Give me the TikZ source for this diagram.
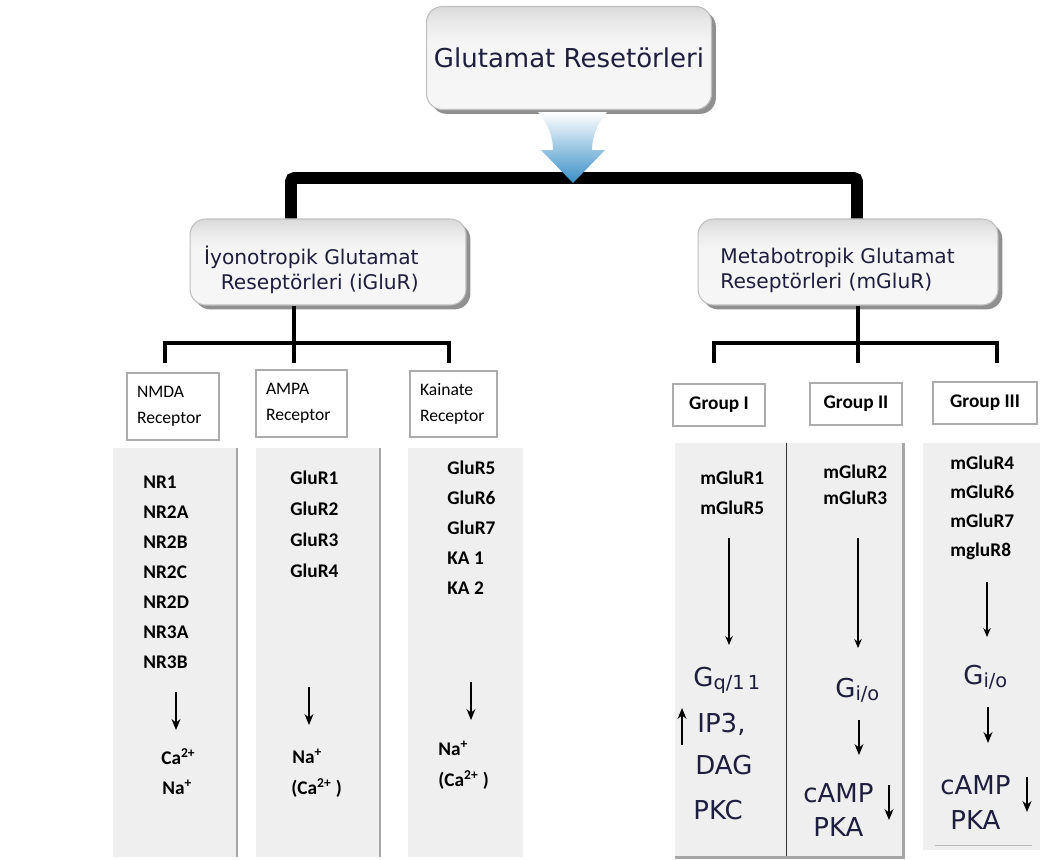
\documentclass[tikz,border=0pt]{standalone}
\usepackage{fontspec}
\setmainfont{DejaVu Sans}
\newfontfamily\carl{Carlito}
\usetikzlibrary{arrows.meta,shadows}
\definecolor{hText}{RGB}{30,30,62}
\definecolor{pGray}{RGB}{239,239,239}
\definecolor{aBlue}{RGB}{58,143,199}
\pgfdeclareverticalshading{hdshade}{100bp}{color(0bp)=(gray!7); color(25bp)=(gray!7); color(58bp)=(gray!8); color(68bp)=(gray!18); color(75bp)=(gray!30); color(100bp)=(gray!30)}
\newcommand\Gsub[1]{G\raisebox{-1.5pt}{\fontsize{11}{11}\selectfont #1}}

\begin{document}
\begin{tikzpicture}[x=0.02cm,y=-0.02cm,
  hd/.style={rounded corners=9pt,draw=gray!50,line width=.6pt,shading=hdshade,
    drop shadow={shadow xshift=2.5pt,shadow yshift=-2.5pt,opacity=.6,fill=gray!55!black}},
  ht/.style={font=\fontsize{11.5}{14.2}\selectfont,text=hText,inner sep=0pt},
  rc/.style={draw=gray!65,line width=.8pt,fill=white,align=left,inner xsep=.2cm,inner ysep=0pt,
    font=\carl\fontsize{10}{15}\selectfont},
  gp/.style={draw=gray!65,line width=.8pt,fill=white,minimum height=.84cm,
    font=\carl\bfseries\fontsize{11}{13}\selectfont},
  pn/.style={fill=pGray,inner sep=0pt},
  ed/.style={gray!70,line width=1.2pt},
  bar/.style={line width=6.8pt,rounded corners=2pt},
  tr/.style={line width=2.3pt},
  ls/.style={font=\carl\bfseries\fontsize{11}{13}\selectfont,inner sep=0pt,text height=7pt,text depth=0pt,anchor=west},
  vt/.style={font=\fontsize{14.8}{18}\selectfont,text=hText,inner sep=0pt,text height=10.8pt,text depth=0pt,anchor=west},
  a/.style={-{Stealth[length=2.2mm,width=1.8mm]},line width=.8pt},
  la/.style={-{Stealth[length=1.8mm,width=1.5mm]},line width=.6pt}]
  \fill[white] (0,0) rectangle (1040,859);
  \useasboundingbox (0,0) rectangle (1040,859);

  \node[hd,minimum width=5.7cm,minimum height=2.06cm,font=\fontsize{14.8}{18}\selectfont,text=hText] (top) at (569,58) {Glutamat Resetörleri};
  \node[hd,minimum width=5.52cm,minimum height=1.72cm] (igl) at (328,262) {};
  \node[hd,minimum width=6cm,minimum height=1.72cm] (mgl) at (848,262) {};
  \node[ht,align=right,anchor=east] (iglt) at (419,270) {İyonotropik Glutamat\\Reseptörleri (iGluR)};
  \node[ht,align=left,anchor=west] (mglt) at (720,270) {Metabotropik Glutamat\\Reseptörleri (mGluR)};

  \coordinate (bl) at (291,178); \coordinate (br) at (857,178);
  \draw[bar] (igl.north -| bl) |- (br) -- (mgl.north -| br);
  \shade[top color=white,bottom color=aBlue] (538,112) .. controls (549,125) and (553,138) .. (553,150)
    -- (541,150) -- (573,183) -- (605,150) -- (592,150) .. controls (592,138) and (596,125) .. (607,112) -- cycle;

  \coordinate (lj) at (294,343); \coordinate (l1) at (165,363);
  \coordinate (l2) at (294,363); \coordinate (l3) at (449,363);
  \draw[tr] (igl.south -| lj) -- (l2);
  \draw[tr] (l1) |- (lj) -| (l3);
  \coordinate (rj) at (858,343); \coordinate (r1) at (714,363);
  \coordinate (r2) at (858,363); \coordinate (r3) at (997,363);
  \draw[tr] (mgl.south -| rj) -- (r2);
  \draw[tr] (r1) |- (rj) -| (r3);

  \node[rc,text width=1.44cm,minimum height=1.34cm] (nmda) at (173,406.5) {NMDA\\Receptor};
  \node[rc,text width=1.42cm,minimum height=1.34cm] (ampa) at (301.5,403.5) {AMPA\\Receptor};
  \node[rc,text width=1.34cm,minimum height=1.32cm] (kain) at (453.5,404) {Kainate\\Receptor};
  \node[gp,minimum width=1.84cm] (g1) at (719,405) {Group I};
  \node[gp,minimum width=1.84cm] (g2) at (856,404) {Group II};
  \node[gp,minimum width=2.08cm] (g3) at (985,403) {Group III};

  \node[pn,minimum width=2.48cm,minimum height=8.18cm] (p1) at (175,652.5) {};
  \node[pn,minimum width=2.48cm,minimum height=8.18cm] (p2) at (318,652.5) {};
  \node[pn,minimum width=2.3cm,minimum height=8.18cm] (p3) at (465.5,652.5) {};
  \node[pn,minimum width=2.22cm,minimum height=8.28cm] (p4) at (730.5,650) {};
  \node[pn,minimum width=2.34cm,minimum height=8.28cm] (p5) at (844.5,650) {};
  \node[pn,minimum width=2.34cm,minimum height=8.14cm] (p6) at (981.5,646.5) {};
  \draw[ed] (p1.north east) -- (p1.south east);
  \draw[ed] (p2.north east) -- (p2.south east);
  \draw[gray!40!black,line width=.7pt] (p4.north east) -- (p4.south east);
  \draw[ed,line width=1.5pt] (p5.north east) -- (p5.south east) -- (p4.south west);
  \draw[gray!55,line width=.8pt] ([shift={(12,-5)}]p6.south west) -- ([shift={(-8,-5)}]p6.south east);

  \foreach \t [count=\i] in {NR1,NR2A,NR2B,NR2C,NR2D,NR3A,NR3B}
    \node[ls] (nr\i) at (143,452+30*\i) {\t};
  \foreach \t [count=\i] in {GluR1,GluR2,GluR3,GluR4}
    \node[ls] (am\i) at (290,447+31*\i) {\t};
  \foreach \t [count=\i] in {GluR5,GluR6,GluR7,KA 1,KA 2}
    \node[ls] (ka\i) at (447,438+30*\i) {\t};
  \foreach \t [count=\i] in {mGluR1,mGluR5}
    \node[ls] (ga\i) at (700,448+30*\i) {\t};
  \foreach \t [count=\i] in {mGluR2,mGluR3}
    \node[ls] (gb\i) at (823,446+26*\i) {\t};
  \foreach \t [count=\i] in {mGluR4,mGluR6,mGluR7,mgluR8}
    \node[ls] (gc\i) at (950,434+29*\i) {\t};

  \node[ls] (ca1) at (161,758) {Ca\textsuperscript{2+}};
  \node[ls] (na1) at (162,788) {Na\textsuperscript{+}};
  \node[ls] (na2) at (292,757) {Na\textsuperscript{+}};
  \node[ls] (ca2) at (291,788) {(Ca\textsuperscript{2+} )};
  \node[ls] (na3) at (438,749) {Na\textsuperscript{+}};
  \node[ls] (ca3) at (438,780) {(Ca\textsuperscript{2+} )};

  \node[vt] (gq) at (693,677) {\Gsub{q/1\,1}};
  \node[vt] (ip) at (697,723) {IP3,};
  \node[vt] (dag) at (695,765) {DAG};
  \node[vt] (pkc) at (693,810) {PKC};
  \node[vt] (gi1) at (835,688) {\Gsub{i/o}};
  \node[vt] (cm1) at (803,793) {cAMP};
  \node[vt] (pk1) at (813,827) {PKA};
  \node[vt] (gi2) at (963,675) {\Gsub{i/o}};
  \node[vt] (cm2) at (940,785) {cAMP};
  \node[vt] (pk2) at (950,820) {PKA};

  \foreach \n/\x/\ya/\yb in {n/176/692/730,m/309/687/725,k/471/682/720,
      u/682/745/708,b/859/720/755,c/988/707/743,d/889/785/820,e/1027/777/812} {
    \coordinate (\n s) at (\x,\ya); \coordinate (\n e) at (\x,\yb);
    \draw[a] (\n s) -- (\n e);
  }
  \foreach \n/\x/\ya/\yb in {p/729/538/645,q/858/538/648,r/987/582/637} {
    \coordinate (\n s) at (\x,\ya); \coordinate (\n e) at (\x,\yb);
    \draw[la] (\n s) -- (\n e);
  }
\end{tikzpicture}
\end{document}
